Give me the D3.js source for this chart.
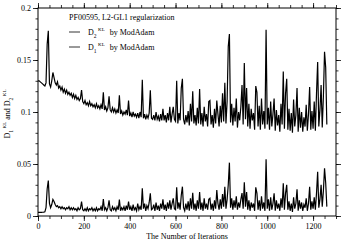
<!DOCTYPE html>
<html>
<head>
  <script src="https://cdn.jsdelivr.net/npm/d3@7"></script>
  <style>
    body { margin: 0; background: #fff; }
    text { font-family: "Liberation Serif", serif; fill: #000; }
  </style>
</head>
<body>
  <svg width="343" height="240" id="mainsvg"></svg>
  <script>
    // sampled every 5 iterations, 0..1260
    const step = 5;
    const d2 = [
      0.130,0.130,0.129,0.128,0.127,0.126,0.125,0.128,0.165,0.178,
      0.127,0.124,0.130,0.138,0.133,0.128,0.126,0.129,0.123,0.125,
      0.121,0.124,0.119,0.122,0.118,0.121,0.117,0.119,0.116,0.118,
      0.114,0.117,0.113,0.116,0.112,0.114,0.111,0.113,0.121,0.110,
      0.108,0.111,0.107,0.109,0.106,0.110,0.106,0.108,0.105,0.107,
      0.104,0.108,0.104,0.106,0.103,0.107,0.103,0.119,0.102,0.105,
      0.101,0.104,0.115,0.102,0.100,0.104,0.100,0.103,0.099,0.102,
      0.099,0.116,0.098,0.101,0.097,0.100,0.098,0.102,0.097,0.111,
      0.096,0.099,0.095,0.100,0.096,0.098,0.095,0.099,0.094,0.100,
      0.095,0.131,0.094,0.098,0.093,0.097,0.094,0.099,0.121,0.094,
      0.093,0.097,0.092,0.100,0.093,0.096,0.091,0.098,0.092,0.103,
      0.092,0.097,0.090,0.099,0.092,0.105,0.090,0.098,0.105,0.093,
      0.091,0.130,0.089,0.099,0.092,0.123,0.132,0.093,0.088,0.097,
      0.090,0.101,0.087,0.108,0.091,0.120,0.089,0.097,0.087,0.104,
      0.089,0.122,0.088,0.099,0.086,0.105,0.091,0.098,0.086,0.110,
      0.111,0.088,0.097,0.085,0.103,0.089,0.111,0.098,0.086,0.106,
      0.090,0.118,0.091,0.128,0.089,0.110,0.163,0.175,0.090,0.108,
      0.087,0.104,0.091,0.113,0.085,0.100,0.092,0.105,0.126,0.088,
      0.147,0.093,0.123,0.086,0.108,0.084,0.103,0.092,0.099,0.083,
      0.125,0.119,0.086,0.106,0.083,0.113,0.088,0.101,0.084,0.179,
      0.088,0.104,0.083,0.110,0.086,0.098,0.113,0.082,0.102,0.087,
      0.097,0.081,0.108,0.088,0.139,0.084,0.118,0.132,0.083,0.103,
      0.082,0.099,0.080,0.112,0.086,0.097,0.123,0.081,0.104,0.085,
      0.100,0.081,0.095,0.086,0.107,0.082,0.098,0.124,0.083,0.101,
      0.084,0.110,0.082,0.118,0.148,0.086,0.102,0.126,0.085,0.115,
      0.158,0.143,0.088
    ];
    const d1 = [
      0.0035,0.0035,0.0035,0.0035,0.0036,0.0037,0.0040,0.008,0.026,0.034,
      0.012,0.008,0.011,0.016,0.014,0.011,0.009,0.010,0.008,0.009,
      0.007,0.009,0.007,0.008,0.006,0.008,0.007,0.009,0.006,0.008,
      0.006,0.008,0.006,0.007,0.005,0.008,0.006,0.007,0.0138,0.006,
      0.005,0.007,0.005,0.008,0.005,0.007,0.006,0.008,0.005,0.007,
      0.005,0.008,0.005,0.007,0.006,0.009,0.005,0.0163,0.006,0.008,
      0.005,0.008,0.015,0.006,0.005,0.009,0.006,0.008,0.005,0.009,
      0.006,0.0157,0.005,0.008,0.006,0.009,0.005,0.010,0.006,0.0138,
      0.006,0.009,0.005,0.011,0.006,0.008,0.005,0.012,0.006,0.009,
      0.006,0.0266,0.007,0.012,0.005,0.010,0.007,0.013,0.0218,0.006,
      0.007,0.011,0.005,0.013,0.006,0.010,0.005,0.012,0.007,0.016,
      0.006,0.011,0.005,0.013,0.007,0.015,0.006,0.012,0.017,0.007,
      0.006,0.0276,0.007,0.013,0.006,0.020,0.0282,0.008,0.005,0.012,
      0.006,0.014,0.005,0.017,0.007,0.0224,0.006,0.012,0.005,0.015,
      0.007,0.023,0.006,0.013,0.005,0.017,0.007,0.012,0.006,0.016,
      0.017,0.006,0.012,0.005,0.015,0.007,0.025,0.012,0.006,0.016,
      0.007,0.021,0.009,0.028,0.007,0.016,0.030,0.0513,0.008,0.017,
      0.006,0.015,0.008,0.019,0.006,0.013,0.008,0.016,0.022,0.007,
      0.0324,0.009,0.023,0.006,0.015,0.005,0.013,0.008,0.012,0.005,
      0.0276,0.022,0.006,0.015,0.005,0.019,0.007,0.013,0.005,0.0545,
      0.007,0.016,0.005,0.018,0.006,0.012,0.0218,0.005,0.015,0.007,
      0.012,0.005,0.017,0.008,0.0314,0.006,0.022,0.030,0.006,0.014,
      0.005,0.012,0.004,0.018,0.007,0.012,0.0257,0.005,0.015,0.007,
      0.013,0.005,0.011,0.008,0.017,0.005,0.012,0.028,0.006,0.014,
      0.007,0.018,0.006,0.022,0.0426,0.008,0.016,0.030,0.009,0.024,
      0.0458,0.032,0.009
    ];
    const xMajor = [0, 200, 400, 600, 800, 1000, 1200];
    const yMajor = [0, 0.05, 0.1, 0.15, 0.2];
    const yLabels = ['0', '0.05', '0.1', '0.15', '0.2'];
    const title = 'PF00595, L2-GL1 regularization';
    const seriesNames = ['2', '1'];

    const svg = d3.select('#mainsvg');
    const margin = { top: 8, right: 7, bottom: 24, left: 38 };
    const W = 343 - margin.left - margin.right;
    const H = 240 - margin.top - margin.bottom;
    const g = svg.append('g').attr('transform', `translate(${margin.left},${margin.top})`);

    const x = d3.scaleLinear().domain([0, 1300]).range([0, W]);
    const y = d3.scaleLinear().domain([0, 0.2]).range([H, 0]);

    const axisStyle = sel => {
      sel.select('.domain').remove();
      sel.selectAll('line').attr('stroke', '#000').attr('stroke-width', 0.8);
      sel.selectAll('text').attr('font-size', 8).attr('font-family', 'Liberation Serif').attr('fill', '#000');
    };

    // minor ticks
    g.append('g').attr('transform', `translate(0,${H})`)
      .call(d3.axisBottom(x).tickValues(d3.range(0, 1301, 50)).tickSize(3).tickFormat('')).call(axisStyle);
    g.append('g')
      .call(d3.axisTop(x).tickValues(d3.range(0, 1301, 50)).tickSize(3).tickFormat('')).call(axisStyle);
    g.append('g')
      .call(d3.axisLeft(y).tickValues(d3.range(0, 0.2001, 0.01)).tickSize(2.5).tickFormat('')).call(axisStyle);
    g.append('g').attr('transform', `translate(${W},0)`)
      .call(d3.axisRight(y).tickValues(d3.range(0, 0.2001, 0.01)).tickSize(2.5).tickFormat('')).call(axisStyle);

    // major ticks
    g.append('g').attr('transform', `translate(0,${H})`)
      .call(d3.axisBottom(x).tickValues(xMajor).tickSize(5).tickPadding(2).tickFormat(d3.format('d'))).call(axisStyle);
    g.append('g')
      .call(d3.axisTop(x).tickValues(xMajor).tickSize(5).tickFormat('')).call(axisStyle);
    g.append('g')
      .call(d3.axisLeft(y).tickValues(yMajor).tickSize(5).tickPadding(2).tickFormat((d, i) => yLabels[i])).call(axisStyle);
    g.append('g').attr('transform', `translate(${W},0)`)
      .call(d3.axisRight(y).tickValues(yMajor).tickSize(5).tickFormat('')).call(axisStyle);

    g.append('rect').attr('width', W).attr('height', H)
      .attr('fill', 'none').attr('stroke', '#000').attr('stroke-width', 1);

    const line = d3.line().x((d, i) => x(i * step)).y(d => y(d));
    g.append('path').datum(d2).attr('d', line)
      .attr('fill', 'none').attr('stroke', '#000').attr('stroke-width', 1.2);
    g.append('path').datum(d1).attr('d', line)
      .attr('fill', 'none').attr('stroke', '#000').attr('stroke-width', 1.2);

    // D with subscript and KL superscript
    const dkl = (t, n) => {
      t.append('tspan').text('D');
      t.append('tspan').attr('font-size', 5.5).attr('dy', 2.5).text(n);
      t.append('tspan').attr('font-size', 5).attr('dy', -6.5).attr('dx', 1.5).text('KL');
      t.append('tspan').attr('dy', 4).text('\u00a0');
    };

    // legend
    const lg = g.append('g').attr('font-size', 8);
    lg.append('text').attr('x', 31).attr('y', 12).text(title);
    seriesNames.forEach((n, i) => {
      const cy = 24 + i * 15;
      lg.append('line').attr('x1', 31).attr('x2', 42).attr('y1', cy).attr('y2', cy)
        .attr('stroke', '#000').attr('stroke-width', 0.8);
      const t = lg.append('text').attr('x', 50).attr('y', cy + 3);
      dkl(t, n);
      t.append('tspan').attr('dx', 3).text('by ModAdam');
    });

    // axis titles
    svg.append('text').attr('x', margin.left + W / 2).attr('y', 238.5)
      .attr('text-anchor', 'middle').attr('font-size', 8).text('The Number of Iterations');
    const yt = svg.append('text').attr('transform', 'translate(10,113) rotate(-90)')
      .attr('text-anchor', 'middle').attr('font-size', 8);
    dkl(yt, '1');
    yt.append('tspan').text('and ');
    dkl(yt, '2');
  </script>
</body>
</html>
